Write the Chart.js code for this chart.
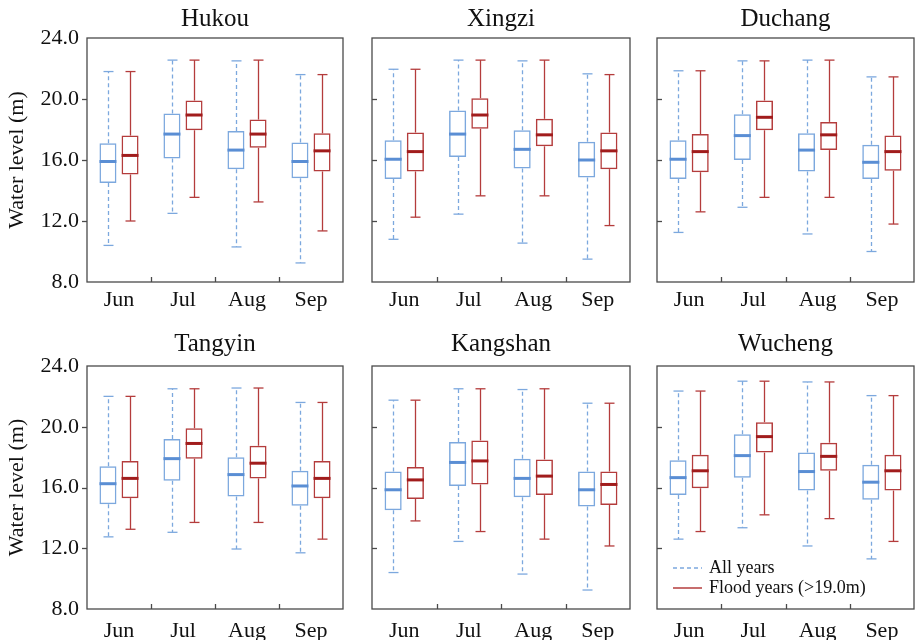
<!DOCTYPE html>
<html>
<head>
<meta charset="utf-8">
<script src="https://cdn.jsdelivr.net/npm/chart.js@4.4.1/dist/chart.umd.min.js"></script>
<style>
    body { margin: 0; background: #fff; }
    #wrap { position: relative; width: 916px; height: 640px; overflow: hidden; }
    #wrap canvas { position: absolute; }
</style>
</head>
<body>
<div id="wrap"></div>
<script>
// data: each box is [min, q1, median, q3, max]
const months = ["Jun", "Jul", "Aug", "Sep"];
const seriesNames = ["All years", "Flood years (>19.0m)"];
const yTicks = [8, 12, 16, 20, 24];

const hukouAll = [[10.4, 14.5, 15.9, 17.1, 21.8], [12.5, 16.1, 17.7, 19.05, 22.55], [10.3, 15.4, 16.65, 17.9, 22.5], [9.25, 14.8, 15.9, 17.15, 21.6]];
const hukouFlood = [[12.0, 15.05, 16.3, 17.6, 21.8], [13.55, 17.95, 18.95, 19.9, 22.55], [13.25, 16.8, 17.7, 18.65, 22.55], [11.35, 15.25, 16.6, 17.75, 21.6]];
const xingziAll = [[10.8, 14.75, 16.05, 17.3, 21.95], [12.45, 16.2, 17.7, 19.25, 22.55], [10.55, 15.45, 16.7, 17.95, 22.5], [9.5, 14.85, 16.0, 17.2, 21.65]];
const xingziFlood = [[12.25, 15.25, 16.55, 17.8, 21.95], [13.65, 18.05, 18.95, 20.05, 22.55], [13.65, 16.9, 17.65, 18.7, 22.55], [11.7, 15.4, 16.6, 17.8, 21.6]];
const duchangAll = [[11.25, 14.75, 16.05, 17.3, 21.85], [12.9, 16.0, 17.6, 19.0, 22.5], [11.15, 15.25, 16.65, 17.75, 22.55], [10.0, 14.75, 15.85, 17.0, 21.45]];
const duchangFlood = [[12.6, 15.2, 16.55, 17.7, 21.85], [13.55, 17.95, 18.8, 19.9, 22.5], [13.55, 16.65, 17.65, 18.5, 22.55], [11.8, 15.3, 16.55, 17.6, 21.45]];
const tangyinAll = [[12.75, 14.9, 16.25, 17.4, 22.0], [13.05, 16.45, 17.9, 19.2, 22.5], [11.95, 15.4, 16.85, 18.0, 22.55], [11.7, 14.8, 16.1, 17.1, 21.6]];
const tangyinFlood = [[13.25, 15.3, 16.6, 17.75, 22.0], [13.7, 17.9, 18.9, 19.9, 22.5], [13.7, 16.6, 17.6, 18.75, 22.55], [12.6, 15.3, 16.6, 17.75, 21.6]];
const kangshanAll = [[10.4, 14.5, 15.85, 17.05, 21.75], [12.45, 16.1, 17.65, 19.0, 22.5], [10.3, 15.35, 16.6, 17.9, 22.45], [9.25, 14.75, 15.85, 17.05, 21.55]];
const kangshanFlood = [[13.8, 15.25, 16.5, 17.35, 21.75], [13.1, 16.2, 17.75, 19.1, 22.5], [12.6, 15.5, 16.75, 17.85, 22.5], [12.15, 14.85, 16.2, 17.05, 21.55]];
const wuchengAll = [[12.6, 15.5, 16.65, 17.8, 22.35], [13.35, 16.65, 18.1, 19.5, 23.0], [12.15, 15.8, 17.05, 18.3, 22.95], [11.3, 15.2, 16.35, 17.5, 22.05]];
const wuchengFlood = [[13.1, 15.95, 17.1, 18.15, 22.35], [14.2, 18.3, 19.35, 20.3, 23.0], [13.95, 17.1, 18.05, 18.95, 22.95], [12.45, 15.8, 17.1, 18.15, 22.05]];

const SERIF = "'Liberation Serif', 'Times New Roman', serif";
const BLUE = "#7ca8de", BLUE_MED = "#5a8ed4";
const RED = "#b43c3c", RED_MED = "#a11c1c";

// panel frames, canvas placement
const panels = [
    { name: "Hukou",    all: hukouAll,    flood: hukouFlood,    col: 0, row: 0 },
    { name: "Xingzi",   all: xingziAll,   flood: xingziFlood,   col: 1, row: 0 },
    { name: "Duchang",  all: duchangAll,  flood: duchangFlood,  col: 2, row: 0 },
    { name: "Tangyin",  all: tangyinAll,  flood: tangyinFlood,  col: 0, row: 1 },
    { name: "Kangshan", all: kangshanAll, flood: kangshanFlood, col: 1, row: 1 },
    { name: "Wucheng",  all: wuchengAll,  flood: wuchengFlood,  col: 2, row: 1, legend: true }
];
const cols = [
    { left: 0,   width: 346, yWidth: 87, padRight: 3 },
    { left: 346, width: 286, yWidth: 26, padRight: 2 },
    { left: 632, width: 284, yWidth: 25, padRight: 2 }
];
const rows = [
    { top: 0,   titleH: 38, titlePadTop: 4, xH: 38, xPad: 5 },
    { top: 320, titleH: 46, titlePadTop: 9, xH: 31, xPad: 9 }
];

function strokeLine(ctx, x1, y1, x2, y2) {
    ctx.beginPath();
    ctx.moveTo(x1, y1);
    ctx.lineTo(x2, y2);
    ctx.stroke();
}

// whiskers, caps, medians, frame, inner ticks, legend
const boxPlugin = {
    id: "boxes",
    afterDatasetsDraw(chart) {
        const ctx = chart.ctx;
        const y = chart.scales.y;
        chart.data.datasets.forEach((ds, d) => {
            const meta = chart.getDatasetMeta(d);
            meta.data.forEach((bar, i) => {
                const [lo, q1, med, q3, hi] = ds.stats[i];
                const cx = Math.round(bar.x) + 0.5;
                const half = bar.width / 2;
                ctx.save();
                ctx.strokeStyle = ds.borderColor;
                ctx.lineWidth = 1.3;
                ctx.setLineDash(ds.whiskerDash);
                strokeLine(ctx, cx, y.getPixelForValue(q3), cx, y.getPixelForValue(hi));
                strokeLine(ctx, cx, y.getPixelForValue(q1), cx, y.getPixelForValue(lo));
                ctx.setLineDash([]);
                strokeLine(ctx, cx - 5, y.getPixelForValue(hi), cx + 5, y.getPixelForValue(hi));
                strokeLine(ctx, cx - 5, y.getPixelForValue(lo), cx + 5, y.getPixelForValue(lo));
                ctx.strokeStyle = ds.medianColor;
                ctx.lineWidth = 3;
                strokeLine(ctx, bar.x - half, y.getPixelForValue(med), bar.x + half, y.getPixelForValue(med));
                ctx.restore();
            });
        });
    },
    afterDraw(chart, args, opts) {
        const ctx = chart.ctx;
        const a = chart.chartArea;
        const x = chart.scales.x, y = chart.scales.y;
        ctx.save();
        ctx.strokeStyle = "#4a4a4a";
        ctx.lineWidth = 1.3;
        ctx.strokeRect(a.left, a.top, a.right - a.left, a.bottom - a.top);
        // y ticks: outward on the first column, inward elsewhere
        yTicks.slice(1, -1).forEach(v => {
            const py = Math.round(y.getPixelForValue(v)) + 0.5;
            if (opts.outer) strokeLine(ctx, a.left - 5, py, a.left, py);
            else strokeLine(ctx, a.left, py, a.left + 5, py);
        });
        // x ticks between months, pointing up
        for (let i = 0; i < months.length - 1; i++) {
            const px = Math.round((x.getPixelForValue(i) + x.getPixelForValue(i + 1)) / 2) + 0.5;
            strokeLine(ctx, px, a.bottom, px, a.bottom - 5);
        }
        if (opts.legend) {
            ctx.font = "18px " + SERIF;
            ctx.textBaseline = "middle";
            ctx.fillStyle = "#111";
            chart.data.datasets.forEach((ds, d) => {
                const ly = a.bottom - 41 + d * 20;
                ctx.strokeStyle = ds.borderColor;
                ctx.lineWidth = 1.5;
                ctx.setLineDash(ds.whiskerDash);
                strokeLine(ctx, a.left + 16, ly, a.left + 45, ly);
                ctx.setLineDash([]);
                ctx.fillText(seriesNames[d], a.left + 52, ly);
            });
        }
        ctx.restore();
    }
};

function makeDataset(stats, idx) {
    const blue = idx === 0;
    return {
        label: seriesNames[idx],
        data: stats.map(b => [b[1], b[3]]),
        stats: stats,
        backgroundColor: "rgba(0,0,0,0)",
        borderColor: blue ? BLUE : RED,
        medianColor: blue ? BLUE_MED : RED_MED,
        whiskerDash: blue ? [4, 3] : [],
        borderWidth: 1.5,
        borderSkipped: false,
        categoryPercentage: 0.69,
        barPercentage: 0.77
    };
}

function renderPanel(p) {
    const c = cols[p.col], r = rows[p.row];
    const canvas = document.createElement("canvas");
    canvas.width = c.width;
    canvas.height = 320;
    canvas.style.left = c.left + "px";
    canvas.style.top = r.top + "px";
    document.getElementById("wrap").appendChild(canvas);
    const first = p.col === 0;

    new Chart(canvas.getContext("2d"), {
        type: "bar",
        data: {
            labels: months,
            datasets: [makeDataset(p.all, 0), makeDataset(p.flood, 1)]
        },
        options: {
            responsive: false,
            animation: false,
            layout: { padding: { right: c.padRight, bottom: 0 } },
            plugins: {
                legend: { display: false },
                tooltip: { enabled: false },
                boxes: { outer: first, legend: !!p.legend }
            },
            scales: {
                x: {
                    type: "category",
                    grid: { display: false, drawTicks: false },
                    border: { display: false },
                    ticks: { color: "#111", padding: r.xPad, font: { family: SERIF, size: 22 } },
                    afterFit: s => { s.height = r.xH; }
                },
                top: {
                    type: "category",
                    position: "top",
                    grid: { display: false, drawTicks: false },
                    border: { display: false },
                    ticks: { display: false },
                    title: {
                        display: true, text: p.name, color: "#111",
                        font: { family: SERIF, size: 25 },
                        padding: { top: r.titlePadTop, bottom: 0 }
                    },
                    afterFit: s => { s.height = r.titleH; }
                },
                y: {
                    min: yTicks[0],
                    max: yTicks[yTicks.length - 1],
                    afterBuildTicks: s => { s.ticks = yTicks.map(v => ({ value: v })); },
                    grid: { display: false, drawTicks: false },
                    border: { display: false },
                    ticks: {
                        display: first, color: "#111", padding: 8,
                        font: { family: SERIF, size: 22 },
                        callback: v => v.toFixed(1)
                    },
                    title: {
                        display: first, text: "Water level (m)", color: "#111",
                        font: { family: SERIF, size: 22 },
                        padding: { top: 4, bottom: 0 }
                    },
                    afterFit: s => { s.width = c.yWidth; }
                }
            }
        },
        plugins: [boxPlugin]
    });
}

window.addEventListener("DOMContentLoaded", () => panels.forEach(renderPanel));
</script>
</body>
</html>
